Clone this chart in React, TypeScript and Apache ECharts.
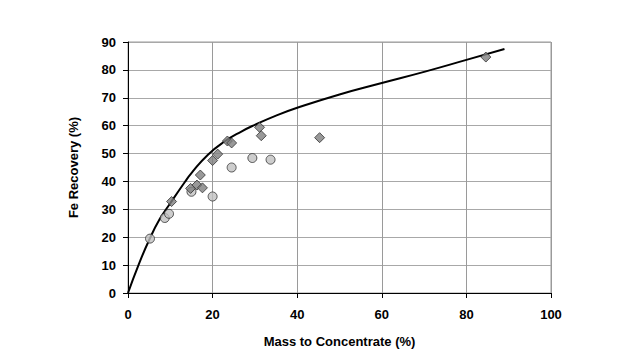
import React, { useEffect, useRef } from "react";
import * as echarts from "echarts";

const circleData: [number, number][] = [
  [5.2, 19.5], [8.7, 26.9], [9.7, 28.4], [15.0, 36.3], [20.0, 34.6],
  [24.5, 45.0], [29.4, 48.4], [33.7, 47.8],
];
const diamondData: [number, number][] = [
  [10.3, 32.8], [14.8, 37.5], [16.3, 38.7], [17.6, 37.7], [17.1, 42.3],
  [20.0, 47.5], [21.2, 49.8], [23.5, 54.5], [24.5, 53.8], [31.1, 59.4],
  [31.5, 56.4], [45.3, 55.7], [84.6, 84.6],
];
const curveData: [number, number][] = [
  [0, 0], [2.5, 10.1], [5, 19], [7.5, 26.5], [10, 32.2], [13.4, 39.7], [15, 43],
  [18.9, 49.6], [22.9, 54.4], [26.8, 57.9], [30, 60.3], [35, 63.6], [40, 66.4],
  [50, 71.2], [60, 75.3], [70, 79.3], [80, 83.6], [89, 87.5],
];
const xTicks = { min: 0, max: 100, interval: 20 };
const yTicks = { min: 0, max: 90, interval: 10 };

const font = "'Liberation Sans', Arial, sans-serif";

export default function App() {
  const ref = useRef<HTMLDivElement>(null);
  useEffect(() => {
    if (!ref.current) return;
    const chart = echarts.init(ref.current, undefined, { renderer: "svg" });
    chart.setOption({
      animation: false,
      backgroundColor: "#ffffff",
      grid: {
        left: 128, right: 74, top: 42, bottom: 65,
        show: true, borderColor: "#9a9a9a", borderWidth: 1,
      },
      xAxis: {
        type: "value", ...xTicks,
        name: "Mass to Concentrate (%)", nameLocation: "middle", nameGap: 42,
        nameTextStyle: { fontFamily: font, fontWeight: "bold", fontSize: 13, color: "#000" },
        axisLine: { show: true, onZero: false, lineStyle: { color: "#000", width: 1 } },
        axisTick: { show: true, length: 5, lineStyle: { color: "#000" } },
        axisLabel: { fontFamily: font, fontWeight: "bold", fontSize: 13, color: "#000", margin: 15 },
        splitLine: { show: true, lineStyle: { color: "#9a9a9a", width: 1 } },
      },
      yAxis: {
        type: "value", ...yTicks,
        name: "Fe Recovery (%)", nameLocation: "middle", nameGap: 48,
        nameTextStyle: { fontFamily: font, fontWeight: "bold", fontSize: 13, color: "#000" },
        axisLine: { show: true, onZero: false, lineStyle: { color: "#000", width: 1 } },
        axisTick: { show: true, length: 5, lineStyle: { color: "#000" } },
        axisLabel: { fontFamily: font, fontWeight: "bold", fontSize: 13, color: "#000", margin: 12 },
        splitLine: { show: true, lineStyle: { color: "#a8a8a8", width: 1 } },
      },
      series: [
        {
          type: "line", data: curveData, smooth: true, showSymbol: false,
          lineStyle: { color: "#000", width: 2 }, z: 3,
        },
        {
          type: "scatter", data: circleData, symbol: "circle", symbolSize: 9,
          itemStyle: { color: "#c0c0c0", borderColor: "#333", borderWidth: 1 }, z: 4,
        },
        {
          type: "scatter", data: diamondData, symbol: "diamond", symbolSize: 10,
          itemStyle: { color: "#7f7f7f", borderColor: "#333", borderWidth: 1 }, z: 5,
        },
      ],
    });
    return () => chart.dispose();
  }, []);
  return <div ref={ref} style={{ width: 625, height: 358, position: "absolute", left: 0, top: 0 }} />;
}
